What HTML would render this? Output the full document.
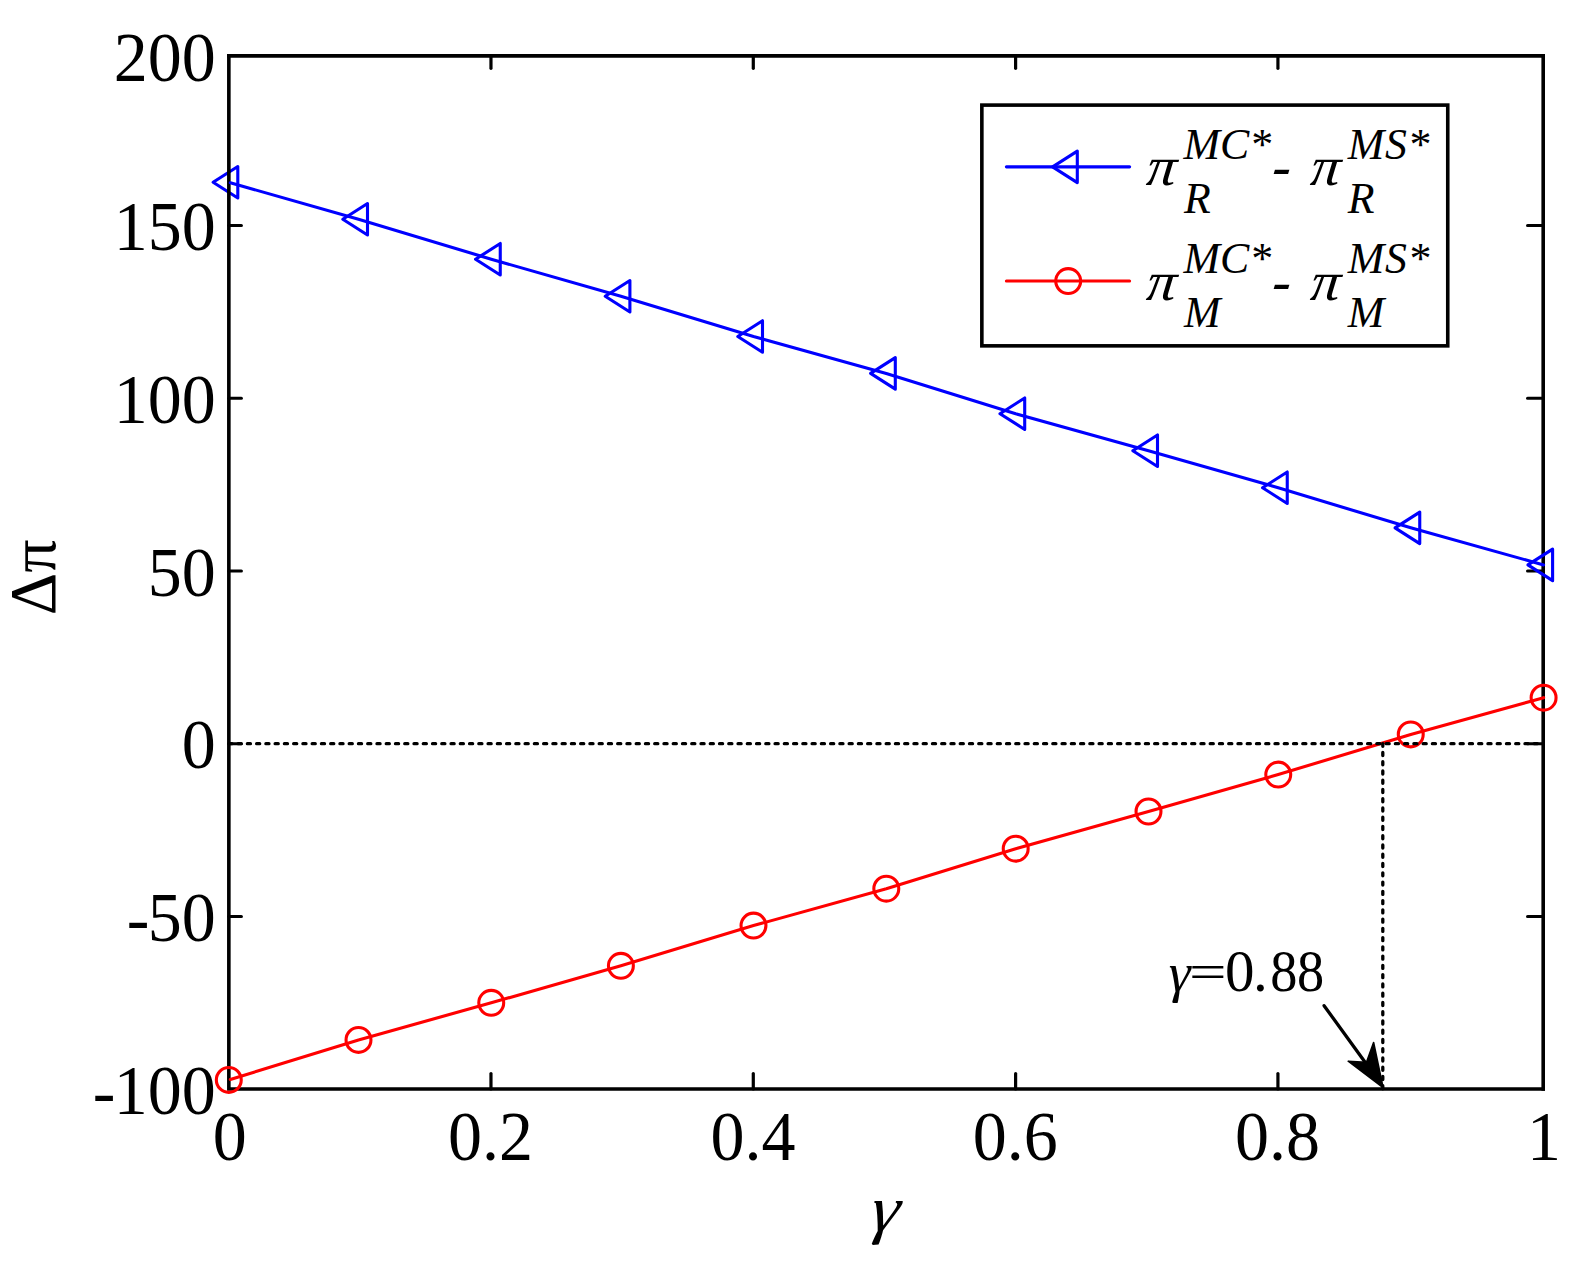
<!DOCTYPE html>
<html lang="en"><head><meta charset="utf-8"><title>Profit difference versus gamma</title>
<style>html,body{margin:0;padding:0;background:#fff}body{width:1580px;height:1272px;overflow:hidden}svg{display:block}text{font-family:"Liberation Serif","DejaVu Serif",serif;fill:#000}.tk{font-size:68px}.it{font-style:italic}</style></head><body>
<svg width="1580" height="1272" viewBox="0 0 1580 1272">
<rect width="1580" height="1272" fill="#fff"/>
<g stroke="#000" fill="none" stroke-linecap="round">
<g stroke-width="3.2">
<line x1="490.97" y1="55.9" x2="490.97" y2="68.3"/>
<line x1="753.29" y1="55.9" x2="753.29" y2="68.3"/>
<line x1="1015.61" y1="55.9" x2="1015.61" y2="68.3"/>
<line x1="1277.93" y1="55.9" x2="1277.93" y2="68.3"/>
<line x1="1543.2" y1="225.50" x2="1527.6000000000001" y2="225.50"/>
<line x1="1543.2" y1="398.25" x2="1527.6000000000001" y2="398.25"/>
<line x1="1543.2" y1="571.00" x2="1527.6000000000001" y2="571.00"/>
<line x1="1543.2" y1="743.75" x2="1527.6000000000001" y2="743.75"/>
<line x1="1543.2" y1="916.50" x2="1527.6000000000001" y2="916.50"/>
</g>
<path d="M228.85 55.9H1543.2V1089.0" stroke-width="3.6" stroke-linecap="square" stroke-linejoin="miter"/>
</g>
<g stroke="#0000ff" fill="none" stroke-width="3.1" stroke-linecap="round" stroke-linejoin="round">
<path d="M213.10 182.30L237.80 166.55L237.80 198.05Z"/>
<path d="M342.80 219.30L367.50 203.55L367.50 235.05Z"/>
<path d="M475.55 259.20L500.25 243.45L500.25 274.95Z"/>
<path d="M605.20 296.30L629.90 280.55L629.90 312.05Z"/>
<path d="M737.80 336.50L762.50 320.75L762.50 352.25Z"/>
<path d="M870.60 373.40L895.30 357.65L895.30 389.15Z"/>
<path d="M1000.00 413.70L1024.70 397.95L1024.70 429.45Z"/>
<path d="M1132.80 450.70L1157.50 434.95L1157.50 466.45Z"/>
<path d="M1262.55 487.75L1287.25 472.00L1287.25 503.50Z"/>
<path d="M1395.05 527.85L1419.75 512.10L1419.75 543.60Z"/>
<path d="M1527.90 564.90L1552.60 549.15L1552.60 580.65Z"/>
</g>
<g stroke="#000" fill="none" stroke-linecap="round">
<g stroke-width="3.2">
<line x1="490.97" y1="1089.0" x2="490.97" y2="1073.6"/>
<line x1="753.29" y1="1089.0" x2="753.29" y2="1073.6"/>
<line x1="1015.61" y1="1089.0" x2="1015.61" y2="1073.6"/>
<line x1="1277.93" y1="1089.0" x2="1277.93" y2="1073.6"/>
<line x1="228.85" y1="225.50" x2="241.35" y2="225.50"/>
<line x1="228.85" y1="398.25" x2="241.35" y2="398.25"/>
<line x1="228.85" y1="571.00" x2="241.35" y2="571.00"/>
<line x1="228.85" y1="743.75" x2="241.35" y2="743.75"/>
<line x1="228.85" y1="916.50" x2="241.35" y2="916.50"/>
</g>
<path d="M228.85 55.9V1089.0H1543.2" stroke-width="3.6" stroke-linecap="square" stroke-linejoin="miter"/>
</g>
<polyline fill="none" stroke="#0000ff" stroke-width="3.1" stroke-linecap="round" stroke-linejoin="round" points="230.30,182.73 358.50,219.30 491.25,259.20 620.90,296.30 753.50,336.50 886.30,373.40 1015.70,413.70 1148.50,450.70 1278.25,487.75 1410.75,527.85 1543.60,564.90"/>
<g stroke="#ff0000" fill="none" stroke-width="3.1" stroke-linecap="round" stroke-linejoin="round">
<polyline points="230.30,1079.44 358.50,1039.90 491.25,1002.80 620.90,965.80 753.50,925.60 886.30,888.70 1015.70,848.70 1148.50,811.50 1278.25,774.60 1410.75,734.40 1543.60,697.70"/>
<circle cx="228.80" cy="1079.90" r="12.45"/>
<circle cx="358.50" cy="1039.90" r="12.45"/>
<circle cx="491.25" cy="1002.80" r="12.45"/>
<circle cx="620.90" cy="965.80" r="12.45"/>
<circle cx="753.50" cy="925.60" r="12.45"/>
<circle cx="886.30" cy="888.70" r="12.45"/>
<circle cx="1015.70" cy="848.70" r="12.45"/>
<circle cx="1148.50" cy="811.50" r="12.45"/>
<circle cx="1278.25" cy="774.60" r="12.45"/>
<circle cx="1410.75" cy="734.40" r="12.45"/>
<circle cx="1543.60" cy="697.70" r="12.45"/>
</g>
<g stroke="#000" fill="none" stroke-width="3.3" stroke-linecap="round" stroke-dasharray="3.086 6.172">
<line x1="228.85" y1="743.7" x2="1543.2" y2="743.7"/>
<line x1="1382.8" y1="1088.8" x2="1382.8" y2="743.7"/>
</g>
<line x1="1324.1" y1="1005.7" x2="1370" y2="1069" stroke="#000" stroke-width="3.3" stroke-linecap="round"/>
<path d="M1383.1 1087.6L1373.6 1042.5L1366.4 1062.4L1348.2 1061.2Z" fill="#000" stroke="#000" stroke-width="1.6" stroke-linejoin="round"/>
<rect x="981.85" y="105.1" width="465.9" height="240.75" fill="#fff" stroke="#000" stroke-width="3.6"/>
<g stroke="#0000ff" fill="none" stroke-width="3.1" stroke-linecap="round" stroke-linejoin="round">
<line x1="1006.4" y1="166.85" x2="1129.6" y2="166.85"/><path d="M1052.60 166.85L1077.30 151.10L1077.30 182.60Z"/>
</g>
<g stroke="#ff0000" fill="none" stroke-width="3.1" stroke-linecap="round" stroke-linejoin="round">
<line x1="1006.4" y1="281.05" x2="1129.6" y2="281.05"/><circle cx="1068.2" cy="281.05" r="12.45"/>
</g>
<text class="it" font-size="55" transform="translate(1145.6 184.79999999999998) scale(1.07 1) skewX(-6)">π</text><text class="it" font-size="43.8" x="1183.6" y="158.7">MC*</text><text class="it" font-size="43.8" x="1184" y="212.7">R</text><text class="it" font-size="55.5" transform="translate(1268.3 185.2) skewX(-17)">-</text><text class="it" font-size="55" transform="translate(1309.6 184.79999999999998) scale(1.07 1) skewX(-6)">π</text><text class="it" font-size="43.8" x="1347.8" y="158.7" letter-spacing="0.7">MS*</text><text class="it" font-size="43.8" x="1347.8" y="212.7">R</text>
<text class="it" font-size="55" transform="translate(1145.6 299.8) scale(1.07 1) skewX(-6)">π</text><text class="it" font-size="43.8" x="1183.6" y="272.7">MC*</text><text class="it" font-size="43.8" x="1184" y="327.09999999999997">M</text><text class="it" font-size="55.5" transform="translate(1268.3 300.2) skewX(-17)">-</text><text class="it" font-size="55" transform="translate(1309.6 299.8) scale(1.07 1) skewX(-6)">π</text><text class="it" font-size="43.8" x="1347.8" y="272.7" letter-spacing="0.7">MS*</text><text class="it" font-size="43.8" x="1347.8" y="327.09999999999997">M</text>
<text class="tk" text-anchor="end" transform="translate(215.70 80.80) scale(1 1.03)">200</text>
<text class="tk" text-anchor="end" transform="translate(215.70 249.90) scale(1 1.03)">150</text>
<text class="tk" text-anchor="end" transform="translate(215.70 422.90) scale(1 1.03)">100</text>
<text class="tk" text-anchor="end" transform="translate(215.70 596.00) scale(1 1.03)">50</text>
<text class="tk" text-anchor="end" transform="translate(215.70 768.35) scale(1 1.03)">0</text>
<text class="tk" transform="translate(0 941.10) scale(1 1.03)" x="126.85 147.7 181.7" y="0.97 0 0">-50</text>
<text class="tk" transform="translate(0 1113.90) scale(1 1.03)" x="92.65 113.7 147.7 181.7" y="0.97 0 0 0">-100</text>
<text class="tk" text-anchor="middle" transform="translate(229.85 1160.00) scale(1 1.03)">0</text>
<text class="tk" text-anchor="middle" transform="translate(490.40 1160.00) scale(1 1.03)">0.2</text>
<text class="tk" text-anchor="middle" transform="translate(753.00 1160.00) scale(1 1.03)">0.4</text>
<text class="tk" text-anchor="middle" transform="translate(1015.20 1160.00) scale(1 1.03)">0.6</text>
<text class="tk" text-anchor="middle" transform="translate(1277.40 1160.00) scale(1 1.03)">0.8</text>
<text class="tk" text-anchor="middle" transform="translate(1544.00 1160.00) scale(1 1.03)">1</text>
<text class="it" font-size="65.2" transform="translate(868.95 1231.1) scale(1.1 1) skewX(-7)">γ</text>
<text font-size="66" text-anchor="middle" transform="translate(55.3 577.4) rotate(-90)">Δπ</text>
<text class="it" font-size="55.5" x="1168.7" y="991.1">γ</text>
<text font-size="59" transform="translate(1188.9 987.8) scale(1.13 0.82)">=</text>
<text font-size="59" transform="translate(0 991.2) scale(1 1.02)" x="1225 1252.9" y="0">0.</text>
<text font-size="59" transform="translate(1270.2 991.2) scale(0.92 1.02)" x="0 29.24" y="0">88</text>
</svg></body></html>
